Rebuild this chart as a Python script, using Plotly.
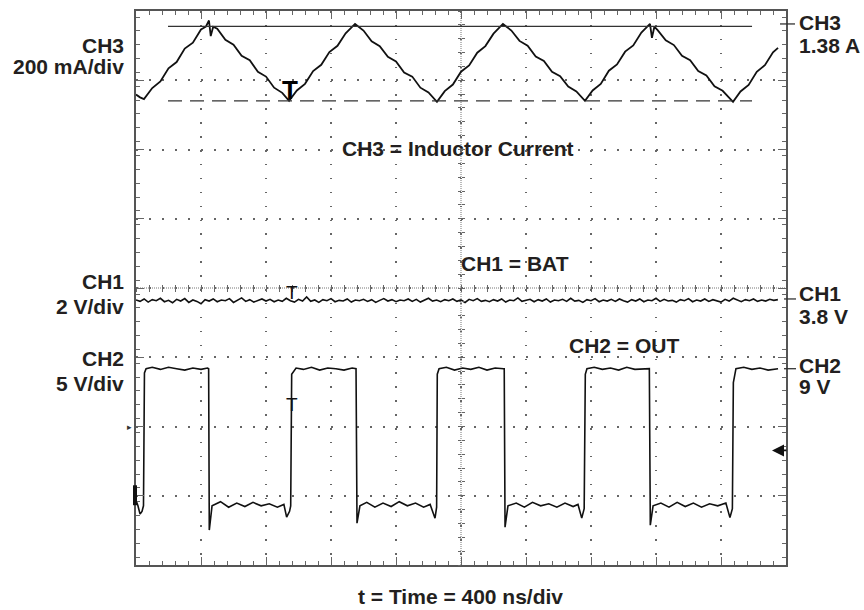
import plotly.graph_objects as go

# ---------------- data ----------------
# time base: 400 ns/div, 10 divisions
t_ch3 = [0, 25, 49, 100, 150, 200, 250, 300, 350, 400, 430, 449, 460, 475,
         500, 550, 600, 650, 700, 750, 800, 850, 900, 942,
         990, 1040, 1090, 1140, 1190, 1240, 1290, 1348,
         1400, 1450, 1500, 1550, 1600, 1650, 1700, 1750, 1800, 1852,
         1900, 1950, 2000, 2050, 2100, 2150, 2200, 2258,
         2310, 2360, 2410, 2460, 2510, 2560, 2610, 2660, 2710, 2763,
         2810, 2860, 2910, 2960, 3010, 3060, 3110, 3163,
         3175, 3190, 3210, 3260, 3310, 3360, 3410, 3460, 3510, 3560, 3610, 3674,
         3720, 3770, 3820, 3870, 3920, 3951]
i_ch3 = [1.176, 1.168, 1.163, 1.195, 1.214, 1.252, 1.270, 1.309, 1.326, 1.364, 1.372, 1.390, 1.345, 1.372,
         1.366, 1.334, 1.320, 1.288, 1.275, 1.242, 1.228, 1.196, 1.181, 1.158,
         1.188, 1.207, 1.244, 1.262, 1.299, 1.317, 1.353, 1.380,
         1.361, 1.330, 1.316, 1.285, 1.272, 1.240, 1.228, 1.196, 1.182, 1.155,
         1.186, 1.205, 1.242, 1.260, 1.297, 1.316, 1.352, 1.380,
         1.361, 1.331, 1.317, 1.286, 1.273, 1.242, 1.229, 1.199, 1.185, 1.158,
         1.188, 1.207, 1.245, 1.263, 1.300, 1.318, 1.355, 1.380,
         1.340, 1.372, 1.362, 1.333, 1.319, 1.288, 1.275, 1.244, 1.231, 1.200, 1.187, 1.155,
         1.185, 1.204, 1.242, 1.261, 1.298, 1.311]

# CH3 cursors (A) and their time extent (ns)
cursor_hi = 1.373
cursor_lo = 1.158
cursor_t = [197, 3791]

# CH1 = BAT (V), sampled every 25 ns
t_ch1 = list(range(0, 3951, 25))
v_ch1 = [3.77, 3.73, 3.80, 3.71, 3.78, 3.75, 3.82, 3.72, 3.76, 3.69, 3.79, 3.74, 3.81, 3.70, 3.77, 3.73, 3.66, 3.78, 3.74, 3.80,
         3.72, 3.77, 3.75, 3.81, 3.70, 3.76, 3.83, 3.73, 3.78, 3.71, 3.76, 3.80, 3.74, 3.79, 3.72, 3.77, 3.73, 3.82, 3.75, 3.71,
         3.79, 3.74, 3.86, 3.73, 3.77, 3.70, 3.78, 3.75, 3.81, 3.72, 3.76, 3.74, 3.80, 3.71, 3.77, 3.75, 3.79, 3.73, 3.78, 3.70,
         3.76, 3.81, 3.74, 3.78, 3.72, 3.77, 3.75, 3.80, 3.73, 3.79, 3.71, 3.76, 3.82, 3.74, 3.77, 3.72, 3.78, 3.75, 3.80, 3.73,
         3.77, 3.70, 3.79, 3.75, 3.81, 3.73, 3.76, 3.72, 3.78, 3.74, 3.80, 3.71, 3.77, 3.75, 3.83, 3.73, 3.76, 3.79, 3.72, 3.78,
         3.74, 3.80, 3.71, 3.77, 3.75, 3.79, 3.73, 3.82, 3.74, 3.76, 3.70, 3.78, 3.75, 3.81, 3.72, 3.77, 3.74, 3.79, 3.73, 3.80,
         3.75, 3.71, 3.78, 3.74, 3.80, 3.72, 3.77, 3.75, 3.82, 3.73, 3.79, 3.74, 3.76, 3.71, 3.78, 3.75, 3.81, 3.72, 3.77, 3.74,
         3.80, 3.73, 3.78, 3.75, 3.71, 3.79, 3.74, 3.82, 3.76, 3.72, 3.78, 3.75, 3.80, 3.73, 3.77, 3.74, 3.79, 3.76, 3.78]

# CH2 = OUT (V)
t_ch2 = [0, 12, 25, 37, 46, 52, 62,
         100, 150, 200, 250, 300, 350, 400, 440,
         447, 451, 468,
         520, 570, 620, 670, 720, 770, 820, 870, 910,
         927, 945, 952,
         958, 985,
         1030, 1080, 1130, 1180, 1230, 1280, 1330, 1350,
         1354, 1360, 1378,
         1420, 1470, 1520, 1570, 1620, 1670, 1720, 1770, 1810,
         1840, 1850,
         1854, 1865,
         1910, 1960, 2010, 2060, 2110, 2160, 2210, 2262,
         2266, 2271, 2289,
         2340, 2390, 2440, 2490, 2540, 2590, 2640, 2690, 2720,
         2743, 2758,
         2765, 2775,
         2820, 2870, 2920, 2970, 3020, 3070, 3120, 3155,
         3159, 3165, 3182,
         3230, 3280, 3330, 3380, 3430, 3480, 3530, 3580, 3630,
         3655, 3670,
         3676, 3692,
         3740, 3790, 3840, 3890, 3951]
v_ch2 = [-0.5, -0.9, -1.5, -1.3, -0.9, 8.7, 9.0,
         9.1, 8.95, 9.1, 9.0, 8.9, 9.05, 8.95, 9.05,
         9.0, -2.65, -0.9,
         -0.6, -1.0, -0.7, -0.95, -0.65, -0.9, -0.75, -1.0, -0.8,
         -1.72, -1.3, -0.9,
         8.6, 9.05,
         8.95, 9.1, 8.9, 9.05, 9.0, 8.9, 9.05, 9.0,
         9.0, -2.15, -0.9,
         -0.65, -1.0, -0.7, -0.95, -0.6, -0.9, -0.7, -1.0, -0.8,
         -1.79, -1.0,
         8.6, 9.0,
         9.1, 8.9, 9.05, 8.95, 9.1, 8.9, 9.05, 9.0,
         9.0, -2.44, -0.9,
         -0.7, -1.0, -0.65, -0.9, -0.75, -1.0, -0.7, -0.95, -0.8,
         -1.79, -1.1,
         8.6, 9.0,
         9.1, 8.95, 9.05, 8.9, 9.1, 8.95, 9.0, 9.05,
         9.0, -2.3, -0.9,
         -0.7, -1.0, -0.65, -0.95, -0.7, -1.0, -0.75, -0.9, -0.7,
         -1.75, -1.1,
         8.0, 9.0,
         9.1, 8.95, 9.05, 8.9, 9.0]

# channel reference levels and scales
ch3_ref, ch3_div = 1.38, 0.2     # A, A/div
ch1_ref, ch1_div = 3.8, 2.0      # V, V/div
ch2_ref, ch2_div = 9.0, 5.0      # V, V/div
t_div = 400                       # ns/div

# ---------------- layout geometry ----------------
W, H = 864, 610
L, R, T, B = 136, 786, 9, 565
PW, PH = R - L, B - T
NX, NY = 10, 8
def px(x): return (x - L) / PW
def py(y): return (B - y) / PH

# reference level screen positions (divisions from bottom)
ch3_pos = (B - 22) / (PH / NY)
ch1_pos = (B - 298) / (PH / NY)
ch2_pos = (B - 368) / (PH / NY)
ch3_lo = ch3_ref - ch3_pos * ch3_div
ch1_lo = ch1_ref - ch1_pos * ch1_div
ch2_lo = ch2_ref - ch2_pos * ch2_div

TXT = "#231f20"
GRID = "#666666"
FONT = "Liberation Sans, Arial, Helvetica, sans-serif"
TR = "#111111"

fig = go.Figure()

fig.add_trace(go.Scatter(x=t_ch3, y=i_ch3, mode="lines", line=dict(color=TR, width=1.8),
                         xaxis="x", yaxis="y", hoverinfo="skip", showlegend=False))
fig.add_trace(go.Scatter(x=cursor_t, y=[cursor_hi, cursor_hi], mode="lines",
                         line=dict(color="#333333", width=1.3), hoverinfo="skip", showlegend=False))
fig.add_trace(go.Scatter(x=cursor_t, y=[cursor_lo, cursor_lo], mode="lines",
                         line=dict(color="#333333", width=1.3, dash="14px,8px"),
                         hoverinfo="skip", showlegend=False))
fig.add_trace(go.Scatter(x=t_ch1, y=v_ch1, mode="lines", line=dict(color=TR, width=1.6),
                         xaxis="x", yaxis="y2", hoverinfo="skip", showlegend=False))
fig.add_trace(go.Scatter(x=t_ch2, y=v_ch2, mode="lines", line=dict(color=TR, width=1.6),
                         xaxis="x", yaxis="y3", hoverinfo="skip", showlegend=False))
# dummy traces registering the centre-cross tick axes
for xa, ya in [("x2", "y"), ("x3", "y"), ("x", "y4"), ("x", "y5")]:
    fig.add_trace(go.Scatter(x=[None], y=[None], xaxis=xa, yaxis=ya, mode="markers",
                             hoverinfo="skip", showlegend=False))

frame = dict(showline=True, linecolor="#555555", linewidth=1.5, mirror="ticks",
             ticks="inside", ticklen=8, tickwidth=1, tickcolor=GRID,
             showticklabels=False, zeroline=False, fixedrange=True,
             showgrid=True, gridcolor=GRID, gridwidth=1.5)

fig.update_layout(
    width=W, height=H,
    margin=dict(l=L, r=W - R, t=T, b=H - B, pad=0),
    paper_bgcolor="white", plot_bgcolor="white",
    xaxis=dict(range=[0, NX * t_div], tick0=0, dtick=t_div, griddash="1.5px,12.4px",
               minor=dict(dtick=t_div / 5, ticks="inside", ticklen=4, tickcolor=GRID, showgrid=False),
               **frame),
    yaxis=dict(range=[ch3_lo, ch3_lo + NY * ch3_div], tick0=ch3_lo, dtick=ch3_div, griddash="1.5px,11.5px",
               minor=dict(dtick=ch3_div / 5, ticks="inside", ticklen=4, tickcolor=GRID, showgrid=False),
               **frame),
    yaxis2=dict(range=[ch1_lo, ch1_lo + NY * ch1_div], overlaying="y", visible=False, fixedrange=True),
    yaxis3=dict(range=[ch2_lo, ch2_lo + NY * ch2_div], overlaying="y", visible=False, fixedrange=True),
    xaxis2=dict(range=[0, NX * t_div], overlaying="x", anchor="free", position=0.5, side="bottom",
                tickmode="linear", tick0=0, dtick=t_div / 5, ticks="outside", ticklen=3,
                tickcolor=GRID, showticklabels=False, showgrid=False, zeroline=False, showline=False),
    xaxis3=dict(range=[0, NX * t_div], overlaying="x", anchor="free", position=0.5, side="bottom",
                tickmode="linear", tick0=0, dtick=t_div / 5, ticks="inside", ticklen=3,
                tickcolor=GRID, showticklabels=False, showgrid=False, zeroline=False, showline=False),
    yaxis4=dict(range=[0, NY], overlaying="y", anchor="free", position=0.5, side="left",
                tickmode="linear", tick0=0, dtick=0.2, ticks="outside", ticklen=3,
                tickcolor=GRID, showticklabels=False, showgrid=False, zeroline=False, showline=False),
    yaxis5=dict(range=[0, NY], overlaying="y", anchor="free", position=0.5, side="left",
                tickmode="linear", tick0=0, dtick=0.2, ticks="inside", ticklen=3,
                tickcolor=GRID, showticklabels=False, showgrid=False, zeroline=False, showline=False),
)

shapes = [
    # dense dotted centre cross
    dict(type="line", xref="paper", yref="paper", x0=0, x1=1, y0=0.5, y1=0.5,
         line=dict(color="#777777", width=1, dash="1px,1px"), layer="below"),
    dict(type="line", xref="paper", yref="paper", x0=0.5, x1=0.5, y0=0, y1=1,
         line=dict(color="#777777", width=1, dash="1px,1px"), layer="below"),
    # right-hand level markers
    dict(type="line", xref="paper", yref="y", x0=px(780), x1=px(795), y0=ch3_ref, y1=ch3_ref,
         line=dict(color="#333333", width=1.3)),
    dict(type="line", xref="paper", yref="y2", x0=px(784), x1=px(796), y0=ch1_ref, y1=ch1_ref,
         line=dict(color="#333333", width=1.3)),
    dict(type="line", xref="paper", yref="y3", x0=px(784), x1=px(796), y0=ch2_ref, y1=ch2_ref,
         line=dict(color="#333333", width=1.3)),
    # left ground marker block
    dict(type="rect", xref="paper", yref="paper", x0=px(133), x1=px(137), y0=py(505), y1=py(485),
         fillcolor="#111111", line=dict(width=0)),
]
fig.update_layout(shapes=shapes)

def ann(text, x, y, xanchor="center", size=21, weight="bold", color=TXT, family=FONT):
    return dict(text=text, x=x, y=y, xref="paper", yref="paper", xanchor=xanchor, yanchor="middle",
                showarrow=False, font=dict(family=family, size=size, color=color, weight=weight))

anns = [
    ann("CH3", px(126), py(44), "right"),
    ann("200 mA/div", px(126), py(65), "right"),
    ann("CH1", px(126), py(280.5), "right"),
    ann("2 V/div", px(126), py(306), "right"),
    ann("CH2", px(126), py(358), "right"),
    ann("5 V/div", px(126), py(383), "right"),
    ann("CH3", px(797), py(21), "left"),
    ann("1.38 A", px(797), py(44), "left"),
    ann("CH1", px(797), py(292.5), "left"),
    ann("3.8 V", px(797), py(315.5), "left"),
    ann("CH2", px(797), py(364.5), "left"),
    ann("9 V", px(797), py(385.5), "left"),
    ann("CH3 = Inductor Current", px(458), py(146.5)),
    ann("CH1 = BAT", px(515), py(262)),
    ann("CH2 = OUT", px(624), py(344.5)),
    ann("t = Time = 400 ns/div", px(460), py(597)),
    # trigger "T" markers
    ann("T", px(290), py(88), size=26, weight="bold", color="#000000"),
    ann("T", px(291.5), py(292), size=19, weight="normal", color="#111111"),
    ann("T", px(291.5), py(404), size=19, weight="normal", color="#111111"),
    ann("\u25b8", px(134), py(427), "right", size=9, weight="normal", color="#333333"),
    # right-hand ground arrow
    dict(text="", x=px(772), y=py(450), xref="paper", yref="paper", showarrow=True,
         ax=16, ay=0, arrowhead=2, arrowsize=1.5, arrowwidth=1.6, arrowcolor="#111111"),
]
fig.update_layout(annotations=anns)

fig.write_html("out.html", config={"displayModeBar": False},
               post_script="document.body.style.margin='0px';document.body.style.overflow='hidden';")
